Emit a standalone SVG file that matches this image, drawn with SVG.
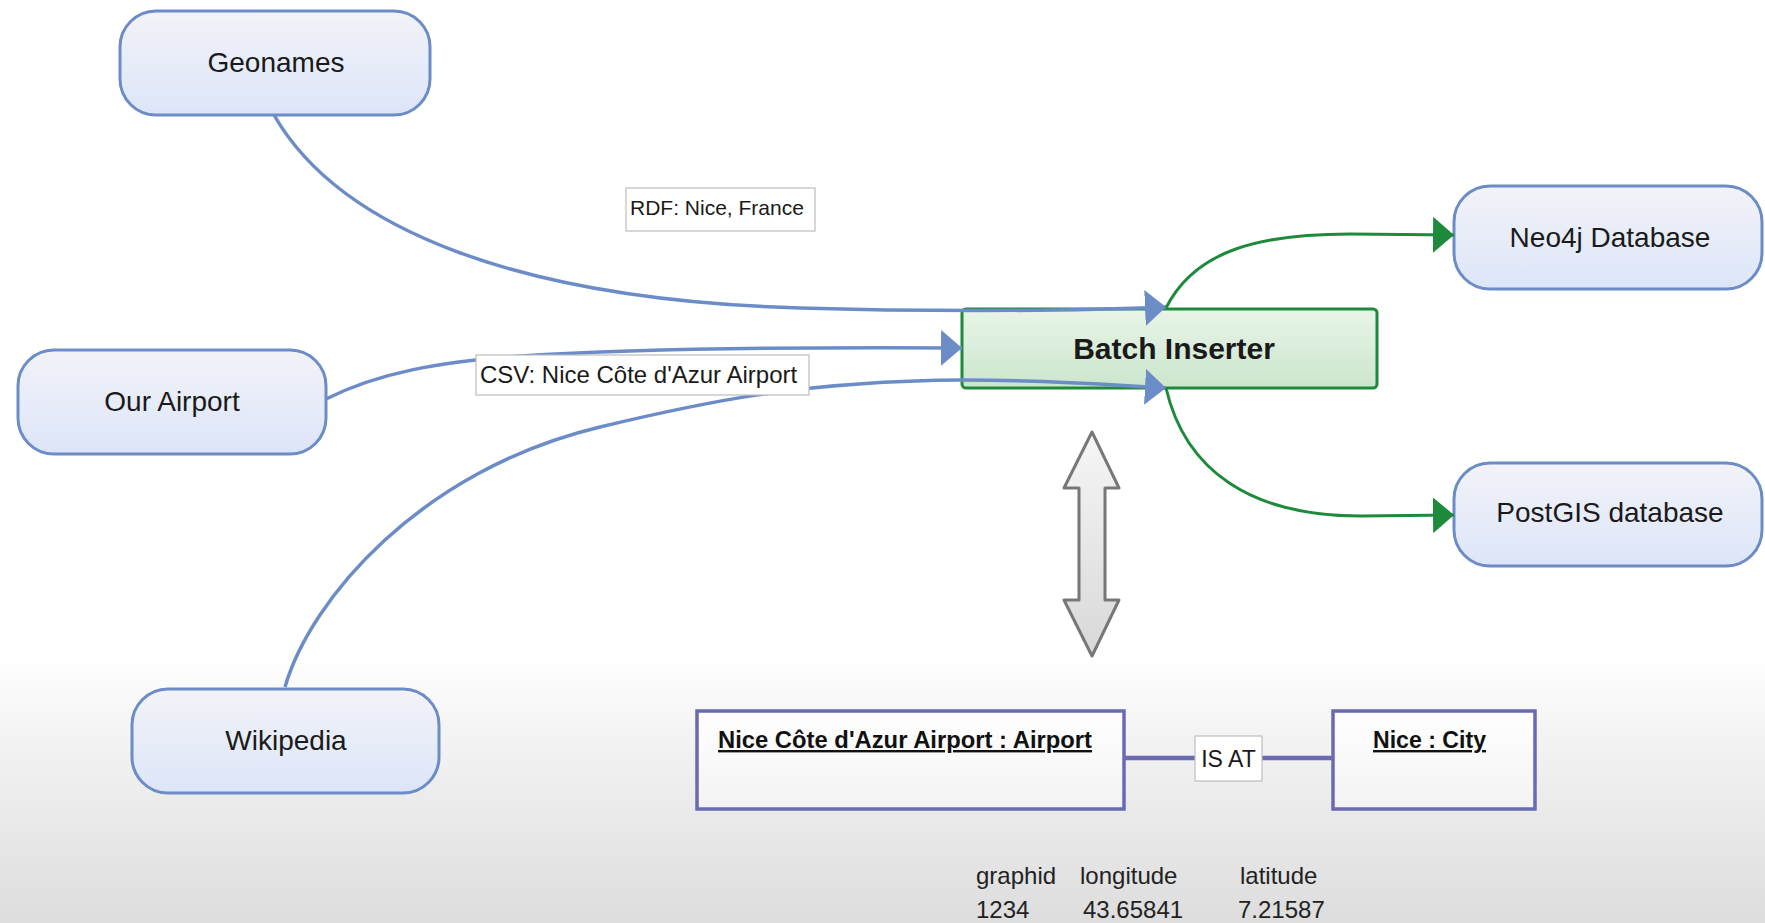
<svg xmlns="http://www.w3.org/2000/svg" width="1765" height="923" viewBox="0 0 1765 923">
<defs>
<linearGradient id="bg" x1="0" y1="0" x2="0" y2="1">
<stop offset="0" stop-color="#ffffff"/><stop offset="0.71" stop-color="#ffffff"/><stop offset="0.8" stop-color="#f3f3f3"/><stop offset="1" stop-color="#dddddd"/>
</linearGradient>
<linearGradient id="nodeFill" x1="0" y1="0" x2="0" y2="1">
<stop offset="0" stop-color="#f3f3f8"/><stop offset="1" stop-color="#dce5f8"/>
</linearGradient>
<linearGradient id="batchFill" x1="0" y1="0" x2="0" y2="1">
<stop offset="0" stop-color="#e8f5e8"/><stop offset="1" stop-color="#cce5cc"/>
</linearGradient>
<linearGradient id="arrowFill" x1="0" y1="0" x2="0" y2="1">
<stop offset="0" stop-color="#f6f6f6"/><stop offset="1" stop-color="#d8d8d8"/>
</linearGradient>
<linearGradient id="umlFill" x1="0" y1="0" x2="0" y2="1">
<stop offset="0" stop-color="#ffffff"/><stop offset="1" stop-color="#f3f3f3"/>
</linearGradient>
<marker id="ab" markerUnits="userSpaceOnUse" markerWidth="21" markerHeight="36" viewBox="0 0 21 36" refX="21" refY="18" orient="auto">
<path d="M0,0 L21,18 L0,36 z" fill="#6c8cc8"/>
</marker>
<marker id="ag" markerUnits="userSpaceOnUse" markerWidth="21" markerHeight="36" viewBox="0 0 21 36" refX="21" refY="18" orient="auto">
<path d="M0,0 L21,18 L0,36 z" fill="#1e8a3c"/>
</marker>
</defs>
<style>
.node{fill:url(#nodeFill);stroke:#6c8cc8;stroke-width:3}
.lbl{font-family:"Liberation Sans",Arial,sans-serif;font-size:28px;fill:#1a1a1a;text-anchor:middle}
.blue{fill:none;stroke:#6c8cc8;stroke-width:3.5;marker-end:url(#ab)}
.green{fill:none;stroke:#1e8a3c;stroke-width:3;marker-end:url(#ag)}
.ebox{fill:#ffffff;stroke:#bdbdbd;stroke-width:1.2}
.etxt{font-family:"Liberation Sans",Arial,sans-serif;fill:#1a1a1a}
.uml{fill:url(#umlFill);stroke:#6a6ab4;stroke-width:3.5}
.umltxt{font-family:"Liberation Sans",Arial,sans-serif;font-size:24px;font-weight:bold;fill:#111;text-decoration:underline}
.tbl{font-family:"Liberation Sans",Arial,sans-serif;font-size:24px;fill:#222}
</style>
<rect x="0" y="0" width="1765" height="923" fill="url(#bg)"/>

<g id="geonames"><rect class="node" x="120" y="11" width="310" height="104" rx="36"/><text class="lbl" x="276" y="72">Geonames</text></g>
<g id="our-airport"><rect class="node" x="18" y="350" width="308" height="104" rx="36"/><text class="lbl" x="172" y="411">Our Airport</text></g>
<g id="wikipedia"><rect class="node" x="132" y="689" width="307" height="104" rx="36"/><text class="lbl" x="286" y="750">Wikipedia</text></g>
<g id="neo4j"><rect class="node" x="1454" y="186" width="308" height="103" rx="36"/><text class="lbl" x="1610" y="247">Neo4j Database</text></g>
<g id="postgis"><rect class="node" x="1454" y="463" width="308" height="103" rx="36"/><text class="lbl" x="1610" y="522">PostGIS database</text></g>
<g id="batch-inserter"><rect x="962" y="309" width="415" height="79" rx="4" fill="url(#batchFill)" stroke="#1e8a3c" stroke-width="3"/><text class="lbl" x="1174" y="359" font-weight="bold" style="font-size:30px">Batch Inserter</text></g>

<g id="connectors">
<path class="blue" d="M274,115 C340,230 520,300 800,308 C900,311 1050,312 1166,307"/>
<path class="blue" d="M326,399 C380,372 440,362 520,356 C650,348 800,347 962,348"/>
<path class="blue" d="M285,687 C310,600 420,470 600,427 C700,403 800,381 962,380 C1060,380 1110,385 1166,388"/>
<path class="green" d="M1166,308 C1195,250 1260,234 1350,234 L1454,235"/>
<path class="green" d="M1166,388 C1185,470 1250,516 1360,516 L1454,515"/>
<line x1="1124" y1="758" x2="1333" y2="758" stroke="#6a6ab4" stroke-width="4.5"/>
</g>

<g id="edge-labels">
<rect class="ebox" x="626" y="188" width="189" height="43"/>
<text class="etxt" x="630" y="215" font-size="21">RDF: Nice, France</text>
<rect class="ebox" x="476" y="355" width="333" height="40"/>
<text class="etxt" x="480" y="383" font-size="24">CSV: Nice Côte d'Azur Airport</text>
<rect class="ebox" x="1195" y="736" width="67" height="45"/>
<text class="etxt" x="1228.5" y="767" font-size="23" text-anchor="middle">IS AT</text>
</g>

<g id="double-arrow"><polygon points="1092,432 1119,488 1105,488 1105,600 1119,600 1092,656 1064,600 1079,600 1079,488 1064,488" fill="url(#arrowFill)" stroke="#777777" stroke-width="3" stroke-linejoin="round"/></g>

<g id="airport-object"><rect class="uml" x="697" y="711" width="427" height="98"/><text class="umltxt" x="718" y="748" textLength="374" lengthAdjust="spacingAndGlyphs">Nice Côte d'Azur Airport : Airport</text></g>
<g id="city-object"><rect class="uml" x="1333" y="711" width="202" height="98"/><text class="umltxt" x="1373" y="748" textLength="113" lengthAdjust="spacingAndGlyphs">Nice : City</text></g>

<g id="table">
<text class="tbl" x="976" y="884">graphid</text>
<text class="tbl" x="1080" y="884">longitude</text>
<text class="tbl" x="1240" y="884">latitude</text>
<text class="tbl" x="976" y="918">1234</text>
<text class="tbl" x="1083" y="918">43.65841</text>
<text class="tbl" x="1238" y="918">7.21587</text>
</g>
</svg>
